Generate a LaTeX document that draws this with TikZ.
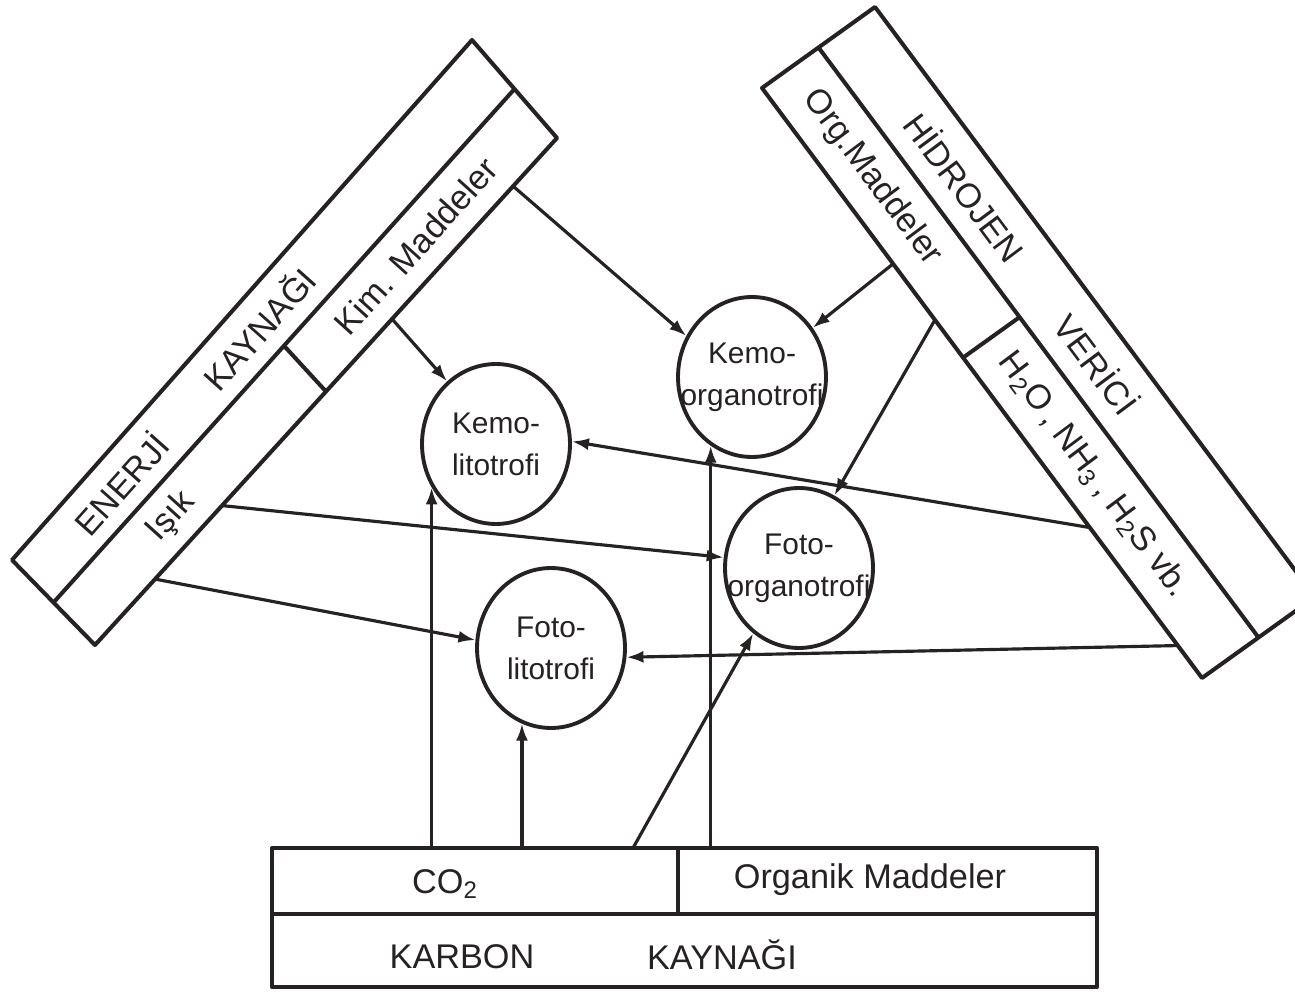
\documentclass[tikz,border=0pt]{standalone}
\usepackage{fontspec}
\setmainfont{Liberation Sans}
\usetikzlibrary{calc,arrows.meta,shapes.geometric}
\definecolor{ink}{RGB}{38,34,34}
\begin{document}
\begin{tikzpicture}[x=0.02cm,y=-0.02cm,
  bar/.style={draw=ink,line width=2.3pt,line join=round},
  conn/.style={draw=ink,line width=1.8pt,-{Latex[length=3.4mm,width=2.4mm]}},
  org/.style={ellipse,draw=ink,line width=2.2pt,minimum width=2.96cm,minimum height=3.2cm,inner sep=0pt},
  orgtxt/.style={align=center,inner sep=0pt,text=ink,font=\fontsize{17}{24}\selectfont},
  lbl/.style={font=\fontsize{19.5}{24}\selectfont,text=ink,inner sep=0pt},
]
\useasboundingbox (0,0) rectangle (1295,993);
\clip (0,0) rectangle (1295,993);
\fill[white] (0,0) rectangle (1295,993);

% ---------- left bar: ENERJI KAYNAGI ----------
\coordinate (LA) at (12,560);
\coordinate (LB) at (472,40);
\coordinate (LC) at (557,138);
\coordinate (LD) at (95,645);
\coordinate (LM1) at ($(LA)!0.5!(LD)$);
\coordinate (LM2) at ($(LB)!0.5!(LC)$);
\draw[bar] (LA) -- (LB) -- (LC) -- (LD) -- cycle;
\draw[bar] (LM1) -- (LM2);
\draw[bar] ($(LM1)!0.5!(LM2)$) -- ($(LD)!0.5!(LC)$);
\coordinate (LU1) at ($(LA)!0.25!(LD)$);
\coordinate (LU2) at ($(LB)!0.25!(LC)$);
\coordinate (LL1) at ($(LA)!0.75!(LD)$);
\coordinate (LL2) at ($(LB)!0.75!(LC)$);
\path (LU1) -- (LU2)
  node[lbl,sloped,pos=0.19] (tEn) {ENERJİ}
  node[lbl,sloped,pos=0.49] (tKa) {KAYNAĞI};
\path (LL1) -- (LL2)
  node[lbl,sloped,pos=0.21] (tIs) {Işık}
  node[lbl,sloped,pos=0.74] (tKim) {Kim. Maddeler};

% ---------- right bar: HIDROJEN VERICI ----------
\coordinate (RA) at (762,88);
\coordinate (RB) at (875,7);
\coordinate (RC) at (1315,597);
\coordinate (RD) at (1202,678);
\coordinate (RM1) at ($(RA)!0.5!(RB)$);
\coordinate (RM2) at ($(RD)!0.5!(RC)$);
\draw[bar] (RA) -- (RB) -- (RC) -- (RD) -- cycle;
\draw[bar] (RM1) -- (RM2);
\draw[bar] ($(RA)!0.457!(RD)$) -- ($(RM1)!0.457!(RM2)$);
\coordinate (RL1) at ($(RA)!0.25!(RB)$);
\coordinate (RL2) at ($(RD)!0.25!(RC)$);
\coordinate (RU1) at ($(RA)!0.75!(RB)$);
\coordinate (RU2) at ($(RD)!0.75!(RC)$);
\path (RL1) -- (RL2)
  node[lbl,sloped,pos=0.186] (tOrg) {Org.Maddeler}
  node[lbl,sloped,pos=0.69] (tH) {H\textsubscript{2}O\,, NH\textsubscript{3}\,, H\textsubscript{2}S vb.};
\path (RU1) -- (RU2)
  node[lbl,sloped,pos=0.27] (tHid) {HİDROJEN}
  node[lbl,sloped,pos=0.57] (tVer) {VERİCİ};

% ---------- bottom box: KARBON KAYNAGI ----------
\coordinate (BT) at (272,848);
\coordinate (BB) at (1097,987);
\draw[bar] (BT) rectangle (BB);
\draw[bar] (272,914) -- (1097,914);
\draw[bar] (678,848) -- (678,914);
\node[lbl] (tCO) at (445,884) {CO\textsubscript{2}};
\node[lbl] (tOM) at (870,880) {Organik Maddeler};
\node[lbl] (tKar) at (462,957) {KARBON};
\node[lbl] (tKay) at (722,955) {KAYNAĞI};

% ---------- organism groups ----------
\node[org] (kl) at (496,444) {};
\node[orgtxt] (klt) at (kl) {Kemo-\\litotrofi};
\node[org] (ko) at (752,377) {};
\node[orgtxt] (kot) at (ko) {Kemo-\\organotrofi};
\node[org] (fo) at (799,568) {};
\node[orgtxt] (fot) at (fo) {Foto-\\organotrofi};
\node[org] (fl) at (551,648) {};
\node[orgtxt] (flt) at (fl) {Foto-\\litotrofi};

% ---------- connectors ----------
\coordinate (s1) at ($(LC)!0.095!(LD)$);
\coordinate (s2) at ($(LC)!0.357!(LD)$);
\coordinate (s3) at ($(LC)!0.725!(LD)$);
\coordinate (s4) at ($(LC)!0.87!(LD)$);
\coordinate (r1) at ($(RA)!0.298!(RD)$);
\coordinate (r2) at ($(RA)!0.393!(RD)$);
\coordinate (r3) at ($(RA)!0.745!(RD)$);
\coordinate (r4) at ($(RA)!0.945!(RD)$);
\coordinate (b3) at (633,848);

\draw[conn] (s1) -- (ko.148);
\draw[conn] (s2) -- (kl.128);
\draw[conn] (s3) -- (fo.172);
\draw[conn] (s4) -- (fl.174);
\draw[conn] (r1) -- (ko.39);
\draw[conn] (r2) -- (fo.64);
\draw[conn] (r3) -- (kl.2);
\draw[conn] (r4) -- (fl.353);
\draw[conn] (kl.214 |- BT) -- (kl.214);
\draw[conn] (fl.249 |- BT) -- (fl.249);
\draw[conn] (b3) -- (fo.235);
\draw[conn] (ko.239 |- BT) -- (ko.239);
\end{tikzpicture}
\end{document}
